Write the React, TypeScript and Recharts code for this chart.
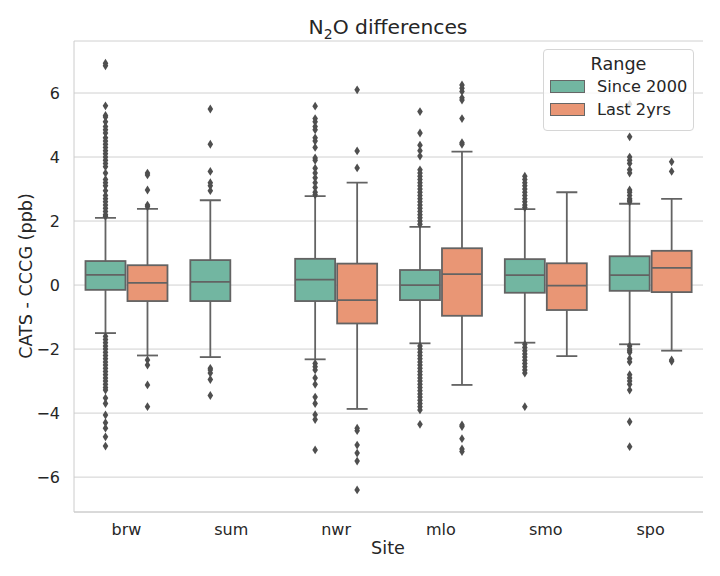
import React from "react";
import {
  ComposedChart,
  Bar,
  XAxis,
  YAxis,
  CartesianGrid,
  Customized,
} from "recharts";

const sites = ["brw", "sum", "nwr", "mlo", "smo", "spo"];

// Since 2000
const sinceLo = [-1.5, -2.25, -2.32, -1.82, -1.8, -1.85];
const sinceQ1 = [-0.15, -0.5, -0.5, -0.47, -0.24, -0.18];
const sinceMed = [0.32, 0.1, 0.17, 0.0, 0.31, 0.31];
const sinceQ3 = [0.75, 0.78, 0.82, 0.47, 0.81, 0.9];
const sinceHi = [2.1, 2.65, 2.78, 1.82, 2.37, 2.54];
const sinceOutliers = [
  [6.93, 6.85, 5.6, 5.3, 5.25, 5.1, 4.95, 4.85, 4.75, 4.6, 4.5, 4.4, 4.3, 4.2, 4.1, 4.0, 3.9, 3.8, 3.7, 3.5, 3.3, 3.2, 3.1, 2.95, 2.8, 2.7, 2.6, 2.5, 2.4, 2.3, 2.2, 2.15,
    -1.6, -1.7, -1.8, -1.9, -2.0, -2.1, -2.2, -2.3, -2.4, -2.5, -2.6, -2.7, -2.8, -2.9, -3.0, -3.1, -3.2, -3.28, -3.53, -3.7, -4.06, -4.3, -4.47, -4.74, -5.03],
  [5.5, 4.4, 3.55, 3.2, 3.1, 2.95, -2.6, -2.65, -2.75, -2.95, -3.45],
  [5.59, 5.2, 5.1, 4.95, 4.85, 4.6, 4.5, 4.3, 3.97, 3.9, 3.65, 3.5, 3.35, 3.2, 3.05, 2.9, 2.82,
    -2.45, -2.55, -2.65, -2.9, -3.1, -3.5, -3.7, -4.05, -4.2, -5.15],
  [5.42, 4.75, 4.37, 4.2, 4.03, 3.6, 3.5, 3.4, 3.3, 3.2, 3.1, 3.0, 2.9, 2.8, 2.7, 2.6, 2.5, 2.4, 2.3, 2.2, 2.1, 2.0, 1.9,
    -1.9, -2.0, -2.1, -2.2, -2.3, -2.4, -2.5, -2.6, -2.7, -2.8, -2.9, -3.0, -3.1, -3.2, -3.3, -3.4, -3.5, -3.6, -3.7, -3.8, -3.9, -4.35],
  [3.4, 3.3, 3.2, 3.1, 3.0, 2.9, 2.8, 2.7, 2.6, 2.5, 2.42,
    -1.85, -1.95, -2.05, -2.15, -2.25, -2.35, -2.45, -2.55, -2.65, -2.75, -3.8],
  [5.65, 4.63, 4.0, 3.9, 3.8, 3.6, 3.5, 2.97, 2.9, 2.8, 2.7, 2.65, 2.6,
    -1.9, -2.0, -2.05, -2.1, -2.3, -2.4, -2.8, -2.9, -3.0, -3.1, -3.28, -4.27, -5.05],
];

// Last 2yrs (no data for sum)
const lastLo = [-2.2, null, -3.87, -3.12, -2.22, -2.05];
const lastQ1 = [-0.5, null, -1.2, -0.96, -0.78, -0.22];
const lastMed = [0.07, null, -0.47, 0.34, -0.02, 0.54];
const lastQ3 = [0.62, null, 0.67, 1.15, 0.68, 1.07];
const lastHi = [2.38, null, 3.2, 4.17, 2.9, 2.69];
const lastOutliers = [
  [3.5, 3.44, 2.97, 2.5, 2.45, -2.34, -2.5, -3.12, -3.8],
  [],
  [6.1, 4.19, 3.66, -4.47, -4.55, -5.0, -5.25, -5.5, -6.4],
  [6.25, 6.15, 6.05, 5.85, 5.78, 5.2, 4.45, 4.4, -4.37, -4.42, -4.8, -5.12, -5.2],
  [],
  [3.85, 3.55, -2.34, -2.38],
];

const yTicks = [-6, -4, -2, 0, 2, 4, 6];

const SINCE_COLOR = "#72b6a1";
const LAST_COLOR = "#e99675";
const LINE = "#636363";
const TEXT = "#262626";
const FONT = "DejaVu Sans, sans-serif";

type Stats = { lo: number; q1: number; med: number; q3: number; hi: number; out: number[] };

const rows = sites.map((site, i) => {
  const since: Stats = {
    lo: sinceLo[i], q1: sinceQ1[i], med: sinceMed[i], q3: sinceQ3[i], hi: sinceHi[i], out: sinceOutliers[i],
  };
  const last: Stats | null =
    lastQ1[i] == null
      ? null
      : { lo: lastLo[i]!, q1: lastQ1[i]!, med: lastMed[i]!, q3: lastQ3[i]!, hi: lastHi[i]!, out: lastOutliers[i] };
  return {
    site,
    since,
    last,
    sinceBox: [since.q1, since.q3],
    lastBox: last ? [last.q1, last.q3] : null,
  };
});

function BoxShape(props: any) {
  const { x, y, width, height, payload, series, fill } = props;
  const s: Stats | null = payload?.[series];
  if (!s || height == null) return null;
  const top = Math.min(y, y + height);
  const h = Math.abs(height);
  const k = h / (s.q3 - s.q1);
  const py = (v: number) => top + (s.q3 - v) * k;
  const cx = x + width / 2;
  const bx = x + 1;
  const bw = width - 2;
  const cap = width / 4;
  return (
    <g>
      <line x1={cx} x2={cx} y1={py(s.hi)} y2={py(s.q3)} stroke={LINE} strokeWidth={1.8} />
      <line x1={cx} x2={cx} y1={py(s.q1)} y2={py(s.lo)} stroke={LINE} strokeWidth={1.8} />
      <line x1={cx - cap} x2={cx + cap} y1={py(s.hi)} y2={py(s.hi)} stroke={LINE} strokeWidth={1.8} />
      <line x1={cx - cap} x2={cx + cap} y1={py(s.lo)} y2={py(s.lo)} stroke={LINE} strokeWidth={1.8} />
      <rect x={bx} y={top} width={bw} height={h} fill={fill} stroke={LINE} strokeWidth={1.8} />
      <line x1={bx} x2={bx + bw} y1={py(s.med)} y2={py(s.med)} stroke={LINE} strokeWidth={1.8} />
      {s.out.map((v, j) => {
        const oy = py(v);
        return (
          <path
            key={j}
            d={`M${cx},${oy - 4.4} L${cx + 2.8},${oy} L${cx},${oy + 4.4} L${cx - 2.8},${oy} Z`}
            fill="#4f4f4f"
          />
        );
      })}
    </g>
  );
}

function LegendBox() {
  const items = [
    { label: "Since 2000", color: SINCE_COLOR },
    { label: "Last 2yrs", color: LAST_COLOR },
  ];
  return (
    <div
      style={{
        position: "absolute",
        left: 543,
        top: 49,
        width: 151,
        height: 82,
        border: "1px solid #d6d6d6",
        borderRadius: 4,
        background: "rgba(255,255,255,0.8)",
        fontFamily: FONT,
        color: TEXT,
        boxSizing: "border-box",
      }}
    >
      <div style={{ textAlign: "center", fontSize: 17.6, marginTop: 3, lineHeight: "22px" }}>Range</div>
      {items.map((it) => (
        <div key={it.label} style={{ display: "flex", alignItems: "center", height: 23, marginLeft: 6 }}>
          <div
            style={{
              width: 33,
              height: 11,
              background: it.color,
              border: "1px solid #666",
              marginRight: 12,
            }}
          />
          <span style={{ fontSize: 16.2 }}>{it.label}</span>
        </div>
      ))}
    </div>
  );
}

function Texts() {
  return (
    <g fontFamily={FONT} fill={TEXT}>
      <text x={388} y={34} textAnchor="middle" fontSize={20.3}>
        N<tspan fontSize={14} dy={5}>2</tspan>
        <tspan dy={-5}>O differences</tspan>
      </text>
      <text x={388} y={554} textAnchor="middle" fontSize={17.6}>
        Site
      </text>
      <text
        x={32}
        y={276}
        textAnchor="middle"
        fontSize={17.6}
        transform="rotate(-90, 32, 276)"
      >
        CATS - CCCG (ppb)
      </text>
    </g>
  );
}

export default function App() {
  return (
    <div style={{ position: "absolute", left: 0, top: 0, width: 720, height: 576, background: "#fff" }}>
      <ComposedChart
        width={720}
        height={576}
        data={rows}
        margin={{ top: 41, right: 17, bottom: 34, left: 14 }}
        barCategoryGap="10%"
        barGap={0}
      >
        <CartesianGrid vertical={false} stroke="#d0d0d0" strokeWidth={1} />
        <XAxis
          dataKey="site"
          tickLine={false}
          axisLine={{ stroke: "#cccccc" }}
          tick={{ fontSize: 16, fill: TEXT, fontFamily: FONT }}
          tickMargin={6}
          height={30}
        />
        <XAxis xAxisId="top" dataKey="site" orientation="top" tick={false} tickLine={false} axisLine={{ stroke: "#cccccc" }} height={0} />
        <YAxis
          domain={[-7.09, 7.625]}
          allowDataOverflow
          ticks={yTicks}
          tickFormatter={(v: number) => (v < 0 ? `\u2212${Math.abs(v)}` : `${v}`)}
          tickLine={false}
          axisLine={{ stroke: "#cccccc" }}
          tick={{ fontSize: 16, fill: TEXT, fontFamily: FONT }}
          tickMargin={8}
          width={60}
        />
        <YAxis yAxisId="right" orientation="right" tick={false} tickLine={false} axisLine={{ stroke: "#cccccc" }} width={0} />
        <Bar
          dataKey="sinceBox"
          name="Since 2000"
          fill={SINCE_COLOR}
          isAnimationActive={false}
          shape={(p: any) => <BoxShape {...p} series="since" fill={SINCE_COLOR} />}
        />
        <Bar
          dataKey="lastBox"
          name="Last 2yrs"
          fill={LAST_COLOR}
          isAnimationActive={false}
          shape={(p: any) => <BoxShape {...p} series="last" fill={LAST_COLOR} />}
        />
        <Customized component={Texts} />
      </ComposedChart>
      <LegendBox />
    </div>
  );
}
